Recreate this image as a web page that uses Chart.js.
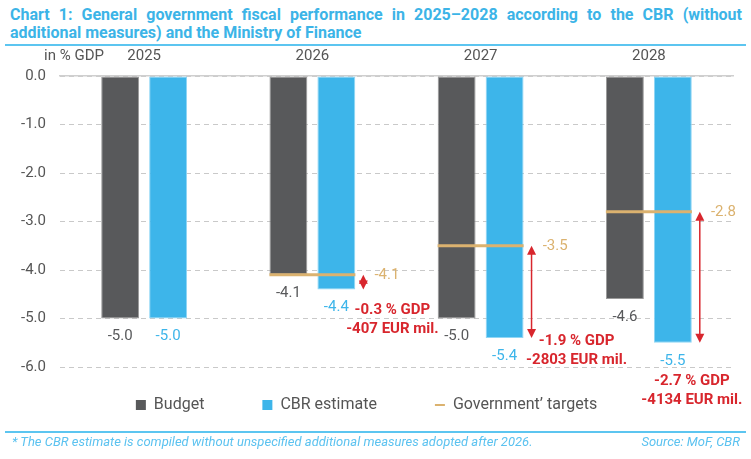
<!DOCTYPE html>
<html>
<head>
<meta charset="utf-8">
<script src="https://cdn.jsdelivr.net/npm/chart.js@4"></script>
<style>
  body { margin: 0; background: #fff; width: 751px; height: 459px; position: relative; overflow: hidden; font-family: Roboto, "Noto Sans", sans-serif; }
  #title { position: absolute; left: 10px; top: 6px; width: 732px; color: #3cb4e7; font-weight: bold; font-size: 16px; line-height: 18px; }
  #title .l1 { text-align: justify; text-align-last: justify; }
  .rule { position: absolute; left: 5px; width: 741px; height: 2px; background: #5cc5f0; }
  #chartWrap { position: absolute; left: 0; top: 45px; width: 751px; height: 414px; }
  #foot { position: absolute; left: 12px; top: 435px; width: 728px; font-size: 13px; line-height: 14px; font-style: italic; color: #5bc2f0; }
  #foot .src { position: absolute; right: 0; top: 0; }
</style>
</head>
<body>
<div id="title">
  <div class="l1">Chart 1: General government fiscal performance in 2025–2028 according to the CBR (without</div>
  <div>additional measures) and the Ministry of Finance</div>
</div>
<div class="rule" style="top:44px"></div>
<div id="chartWrap"><canvas id="fiscalChart" width="751" height="414"></canvas></div>
<div class="rule" style="top:431px"></div>
<div id="foot">* The CBR estimate is compiled without unspecified additional measures adopted after 2026.<span class="src">Source: MoF, CBR</span></div>

<script>
const years = ["2025", "2026", "2027", "2028"];
const budget = [-5.0, -4.1, -5.0, -4.6];
const cbrEstimate = [-5.0, -4.4, -5.4, -5.5];
const govTargets = [null, -4.1, -3.5, -2.8];
const gapGdp = [null, -0.3, -1.9, -2.7];
const gapEurMil = [null, -407, -2803, -4134];
const yMin = -6, yMax = 0, yStep = 1;

// where the red notes sit, relative to category centre / CBR bar end (px)
const noteOffsets = [null, { dx: 80, dy: 21 }, { dx: 96, dy: 3 }, { dx: 43, dy: 38 }];

const DARK = "#58595b";
const BLUE = "#3db5ea";
const TAN = "#dbb26f";
const RED = "#d8262d";
const FONT = "Roboto, 'Noto Sans', sans-serif";

const annotations = {
  id: "annotations",
  afterLayout(chart) {
    // legend sits closer to the plot than its item spacing would allow
    const lg = chart.legend;
    const h = lg.bottom - lg.top;
    lg.top = chart.chartArea.bottom - 28;
    lg.bottom = lg.top + h;
  },
  afterDatasetsDraw(chart) {
    const ctx = chart.ctx;
    const y = chart.scales.y;
    const mBudget = chart.getDatasetMeta(1);
    const mCbr = chart.getDatasetMeta(2);
    const mTarget = chart.getDatasetMeta(0);
    ctx.save();
    ctx.textBaseline = "middle";
    ctx.textAlign = "center";
    ctx.font = "15px " + FONT;

    // value labels under the bars
    mBudget.data.forEach((el, i) => {
      ctx.fillStyle = DARK;
      ctx.fillText(budget[i].toFixed(1), el.x, el.y + 18);
    });
    mCbr.data.forEach((el, i) => {
      ctx.fillStyle = BLUE;
      ctx.fillText(cbrEstimate[i].toFixed(1), el.x, el.y + 18);
    });

    // targets, arrows and gap notes
    mTarget.data.forEach((pt, i) => {
      if (govTargets[i] == null) return;
      const cx = chart.scales.x.getPixelForValue(i);
      const yT = y.getPixelForValue(govTargets[i]);
      const yC = y.getPixelForValue(cbrEstimate[i]);
      ctx.textAlign = "left";
      ctx.fillStyle = TAN;
      ctx.font = "15px " + FONT;
      ctx.fillText(govTargets[i].toFixed(1), cx + 62, yT);

      const bar = mCbr.data[i];
      const ax = bar.x + bar.width / 2 + 8;
      ctx.strokeStyle = RED;
      ctx.fillStyle = RED;
      ctx.lineWidth = 1.5;
      ctx.beginPath();
      ctx.moveTo(ax, yT + 4);
      ctx.lineTo(ax, yC - 4);
      ctx.stroke();
      [[yT, 1], [yC, -1]].forEach(([py, dir]) => {
        ctx.beginPath();
        ctx.moveTo(ax, py);
        ctx.lineTo(ax - 4.5, py + dir * 9);
        ctx.lineTo(ax + 4.5, py + dir * 9);
        ctx.closePath();
        ctx.fill();
      });

      const off = noteOffsets[i];
      ctx.textAlign = "center";
      ctx.font = "bold 15px " + FONT;
      ctx.fillText(gapGdp[i].toFixed(1) + " % GDP", cx + off.dx, yC + off.dy);
      ctx.fillText(gapEurMil[i] + " EUR mil.", cx + off.dx, yC + off.dy + 19);
    });

    // unit label
    ctx.textAlign = "center";
    ctx.fillStyle = "#555";
    ctx.font = "15px " + FONT;
    ctx.fillText("in % GDP", chart.chartArea.left + 14, 11);
    ctx.restore();
  }
};

new Chart(document.getElementById("fiscalChart"), {
  data: {
    labels: years,
    datasets: [
      {
        type: "line",
        label: "Government’ targets",
        data: govTargets,
        showLine: false,
        pointStyle: "line",
        pointRadius: 43,
        pointHoverRadius: 43,
        pointBorderColor: TAN,
        pointBackgroundColor: TAN,
        pointBorderWidth: 3,
        borderColor: TAN,
        backgroundColor: TAN,
        order: -1
      },
      {
        type: "bar",
        label: "Budget",
        data: budget,
        backgroundColor: DARK,
        borderColor: "#9a9a9a",
        borderWidth: 1,
        borderSkipped: false,
        categoryPercentage: 0.57,
        barPercentage: 0.79,
        order: 1
      },
      {
        type: "bar",
        label: "CBR estimate",
        data: cbrEstimate,
        backgroundColor: BLUE,
        borderColor: "#8fd6f5",
        borderWidth: 1,
        borderSkipped: false,
        categoryPercentage: 0.57,
        barPercentage: 0.79,
        order: 1
      }
    ]
  },
  options: {
    responsive: false,
    animation: false,
    events: [],
    layout: { autoPadding: false, padding: { top: 0, right: 18, bottom: 8, left: 0 } },
    scales: {
      x: {
        position: "top",
        grid: { display: false, drawTicks: false },
        border: { display: true, color: "#cfcfcf", width: 1.5 },
        ticks: { color: "#555", font: { family: FONT, size: 15 }, padding: 11 },
        afterFit: s => { s.height = 31; }
      },
      y: {
        min: yMin,
        max: yMax,
        grid: { color: "#c9c9c9", lineWidth: 1, drawTicks: false },
        border: { display: false, dash: [5, 4] },
        ticks: {
          stepSize: yStep,
          color: "#555",
          padding: 14,
          font: { family: FONT, size: 15 },
          callback: v => v.toFixed(1)
        },
        afterFit: s => { s.width = 60; }
      }
    },
    plugins: {
      tooltip: { enabled: false },
      legend: {
        position: "bottom",
        labels: {
          usePointStyle: true,
          boxHeight: 10,
          boxWidth: 10,
          pointStyleWidth: 10,
          color: "#555",
          padding: 58,
          font: { family: FONT, size: 16 },
          sort: (a, b) => {
            const rank = [2, 0, 1];
            return rank[a.datasetIndex] - rank[b.datasetIndex];
          },
          generateLabels: chart => {
            const items = Chart.defaults.plugins.legend.labels.generateLabels(chart);
            items.forEach(it => {
              if (it.datasetIndex === 0) { it.pointStyle = "line"; it.lineWidth = 2; }
              else { it.pointStyle = "rect"; it.lineWidth = 0; }
            });
            return items;
          }
        }
      }
    }
  },
  plugins: [annotations]
});
</script>
</body>
</html>
